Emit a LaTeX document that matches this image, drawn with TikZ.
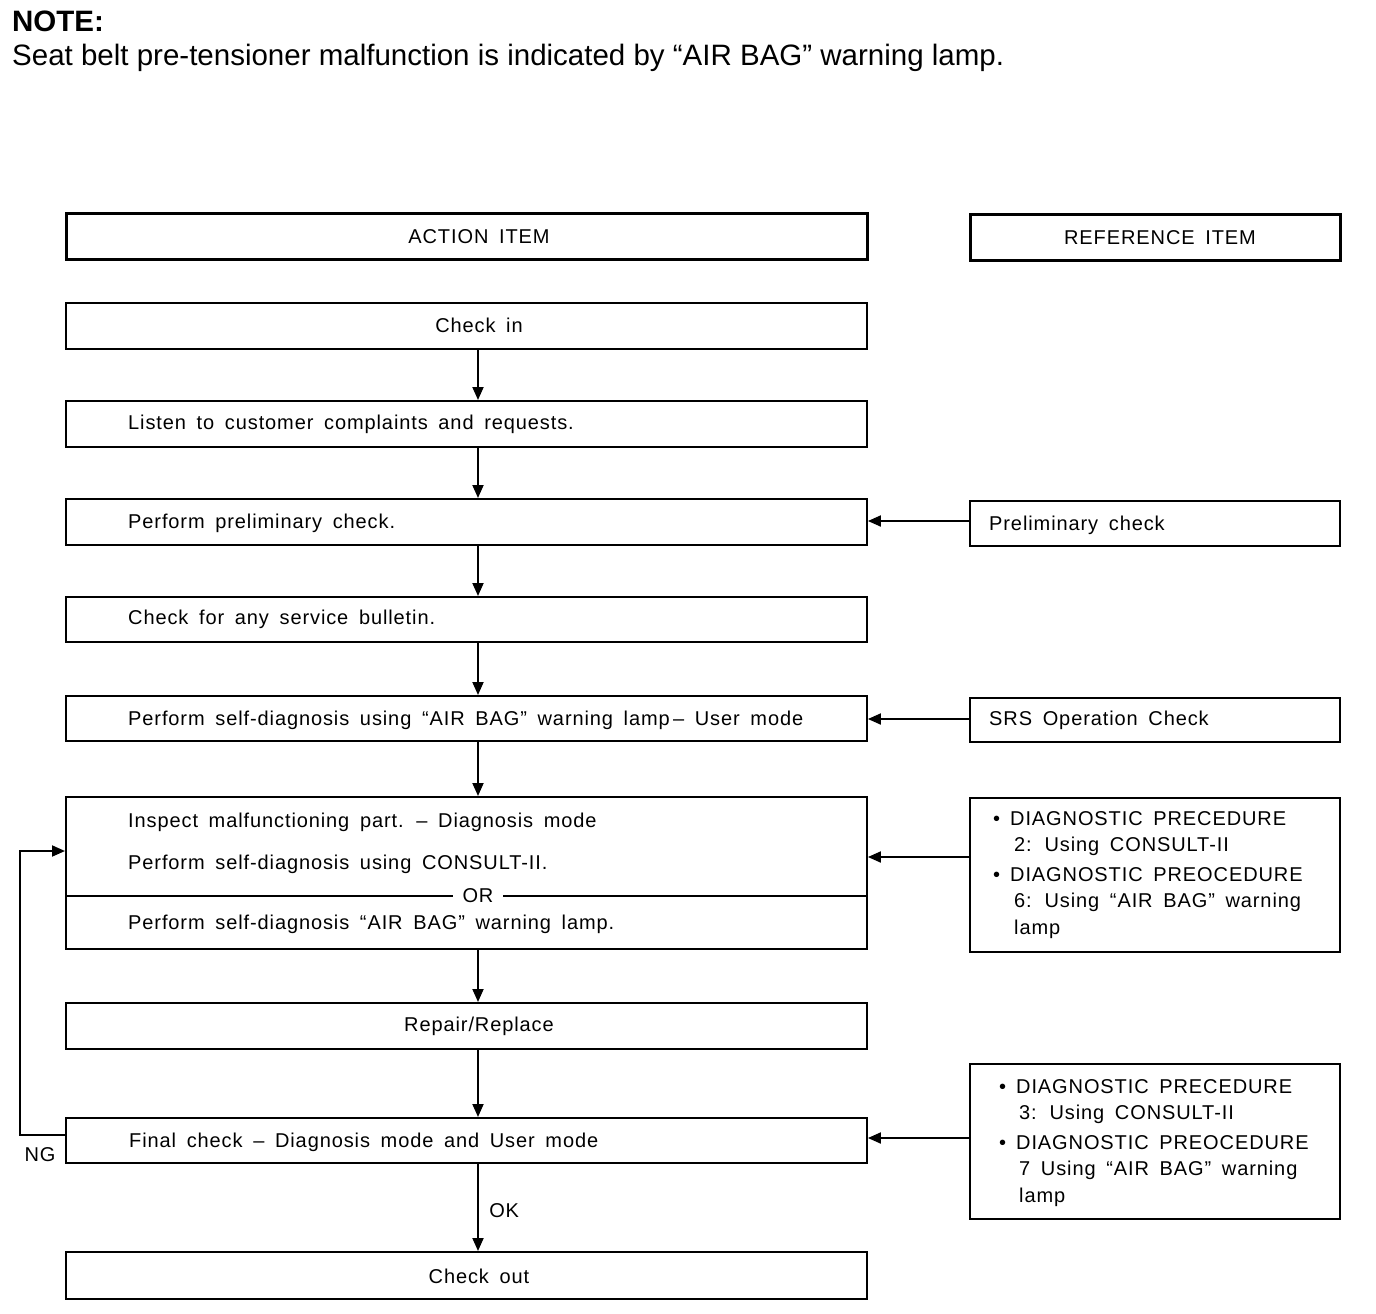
\documentclass[tikz,border=0pt]{standalone}
\usepackage{fontspec}
\setmainfont{Liberation Sans}
\newfontfamily\boxfont{Liberation Sans}[LetterSpace=4.5, WordSpace=1.65]
\usetikzlibrary{arrows.meta}
\begin{document}
\begin{tikzpicture}[x=1pt,y=-1pt,
  box/.style={draw, line width=1.9pt, anchor=north west, inner sep=0pt},
  hbox/.style={box, line width=3.2pt},
  txt/.style={anchor=base west, inner sep=0pt, font=\boxfont\fontsize{20}{27}\selectfont},
  ctxt/.style={anchor=base, inner sep=0pt, font=\boxfont\fontsize{20}{27}\selectfont},
  arr/.style={line width=1.9pt, -{Triangle[length=13pt,width=11pt]}}]
\useasboundingbox (0,0) rectangle (1376,1314);

% note
\node[anchor=base west, inner sep=0pt, font=\fontsize{29.5}{33}\selectfont\bfseries] (note) at (12,32) {NOTE:};
\node[anchor=base west, inner sep=0pt, font=\fontsize{29.5}{33}\selectfont] (notetxt) at (12,66) {Seat belt pre-tensioner malfunction is indicated by “AIR BAG” warning lamp.};

% header boxes
\node[hbox, minimum width=801pt, minimum height=46pt] (acth) at (65,212) {};
\node[ctxt] (actht) at (479,243) {ACTION ITEM};
\node[hbox, minimum width=370pt, minimum height=46pt] (refh) at (969,213) {};
\node[ctxt] (refht) at (1160,244) {REFERENCE ITEM};

% action boxes
\node[box, minimum width=801pt, minimum height=46pt] (checkin) at (65,302) {};
\node[ctxt] (checkint) at (479,332) {Check in};
\node[box, minimum width=801pt, minimum height=46pt] (listen) at (65,400) {};
\node[txt] (listent) at (128,429) {Listen to customer complaints and requests.};
\node[box, minimum width=801pt, minimum height=46pt] (prelim) at (65,498) {};
\node[txt] (prelimt) at (128,528) {Perform preliminary check.};
\node[box, minimum width=801pt, minimum height=45pt] (bulletin) at (65,596) {};
\node[txt] (bulletint) at (128,624) {Check for any service bulletin.};
\node[box, minimum width=801pt, minimum height=45pt] (selfdiag) at (65,695) {};
\node[txt] (selfdiagt) at (128,725) {Perform self-diagnosis using “AIR BAG” warning lamp\,– User mode};
\node[box, minimum width=801pt, minimum height=152pt] (inspect) at (65,796) {};
\node[txt] (inspt1) at (128,827) {Inspect malfunctioning part. – Diagnosis mode};
\node[txt] (inspt2) at (128,869) {Perform self-diagnosis using CONSULT-II.};
\node[txt] (inspt3) at (128,929) {Perform self-diagnosis “AIR BAG” warning lamp.};
\node[box, minimum width=801pt, minimum height=46pt] (repair) at (65,1002) {};
\node[ctxt] (repairt) at (479,1031) {Repair/Replace};
\node[box, minimum width=801pt, minimum height=45pt] (final) at (65,1117) {};
\node[txt] (finalt) at (129,1147) {Final check – Diagnosis mode and User mode};
\node[box, minimum width=801pt, minimum height=47pt] (checkout) at (65,1251) {};
\node[ctxt] (checkoutt) at (479,1283) {Check out};

% OR divider
\coordinate (orl) at (65,896);
\coordinate (orr) at (866,896);
\draw[line width=1.9pt] (orl) -- (orr);
\node[ctxt, fill=white, inner xsep=10pt, inner ysep=3pt] (ort) at (478,902) {OR};

% reference boxes
\node[box, minimum width=370pt, minimum height=45pt] (ref1) at (969,500) {};
\node[txt] (ref1t) at (989,530) {Preliminary check};
\node[box, minimum width=370pt, minimum height=44pt] (ref2) at (969,697) {};
\node[txt] (ref2t) at (989,725) {SRS Operation Check};

\node[box, minimum width=370pt, minimum height=154pt] (ref3) at (969,797) {};
\node[txt] (r3a) at (993,825) {\makebox[17pt][l]{•}DIAGNOSTIC PRECEDURE};
\node[txt] (r3b) at (1014,851) {2: Using CONSULT-II};
\node[txt] (r3c) at (993,881) {\makebox[17pt][l]{•}DIAGNOSTIC PREOCEDURE};
\node[txt] (r3d) at (1014,907) {6: Using “AIR BAG” warning};
\node[txt] (r3e) at (1014,934) {lamp};

\node[box, minimum width=370pt, minimum height=155pt] (ref4) at (969,1063) {};
\node[txt] (r4a) at (999,1093) {\makebox[17pt][l]{•}DIAGNOSTIC PRECEDURE};
\node[txt] (r4b) at (1019,1119) {3: Using CONSULT-II};
\node[txt] (r4c) at (999,1149) {\makebox[17pt][l]{•}DIAGNOSTIC PREOCEDURE};
\node[txt] (r4d) at (1019,1175) {7 Using “AIR BAG” warning};
\node[txt] (r4e) at (1019,1202) {lamp};

% vertical arrows
\coordinate (xl) at (478,0);
\draw[arr] (checkin.south -| xl) -- (listen.north -| xl);
\draw[arr] (listen.south -| xl) -- (prelim.north -| xl);
\draw[arr] (prelim.south -| xl) -- (bulletin.north -| xl);
\draw[arr] (bulletin.south -| xl) -- (selfdiag.north -| xl);
\draw[arr] (selfdiag.south -| xl) -- (inspect.north -| xl);
\draw[arr] (inspect.south -| xl) -- (repair.north -| xl);
\draw[arr] (repair.south -| xl) -- (final.north -| xl);
\draw[arr] (final.south -| xl) -- node[right, font=\boxfont\fontsize{20}{27}\selectfont, xshift=7pt, yshift=-3pt] (okt) {OK} (checkout.north -| xl);

% horizontal arrows from reference items
\coordinate (y1) at (0,521);
\coordinate (y2) at (0,719);
\coordinate (y3) at (0,857);
\coordinate (y4) at (0,1138);
\draw[arr] (ref1.west |- y1) -- (prelim.east |- y1);
\draw[arr] (ref2.west |- y2) -- (selfdiag.east |- y2);
\draw[arr] (ref3.west |- y3) -- (inspect.east |- y3);
\draw[arr] (ref4.west |- y4) -- (final.east |- y4);

% NG loop
\coordinate (ngx) at (20,0);
\coordinate (ngyo) at (0,1135);
\coordinate (ngyi) at (0,851);
\draw[arr] (final.west |- ngyo) -- (ngx |- ngyo) -- (ngx |- ngyi) -- (inspect.west |- ngyi);
\node[anchor=base, inner sep=0pt, font=\boxfont\fontsize{20}{27}\selectfont] (ngt) at (40,1161) {NG};
\end{tikzpicture}
\end{document}
